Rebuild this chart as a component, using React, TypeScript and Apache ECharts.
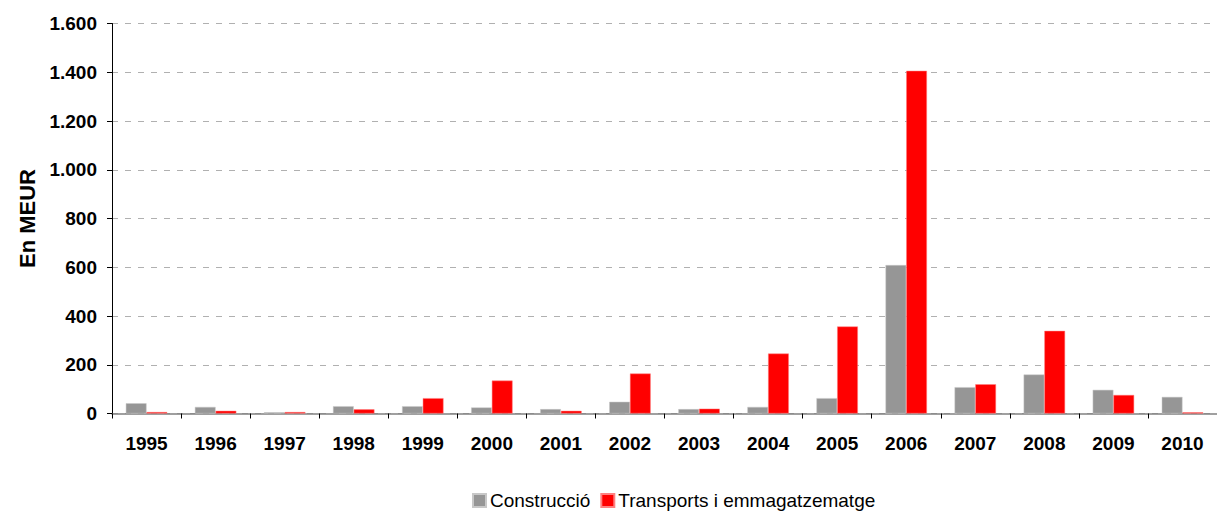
import React, { useEffect, useRef } from "react";
import * as echarts from "echarts";

const categories = ["1995","1996","1997","1998","1999","2000","2001","2002","2003","2004","2005","2006","2007","2008","2009","2010"];
const construccio = [42, 27, 5, 30, 30, 25, 18, 48, 18, 27, 63, 609, 108, 160, 97, 68];
const transports = [6, 11, 6, 17, 63, 135, 11, 164, 20, 246, 357, 1406, 120, 339, 76, 5];
const seriesNames = ["Construcció", "Transports i emmagatzematge"];

const fmt = (v: number) => String(v).replace(/\B(?=(\d{3})+(?!\d))/g, ".");

export default function App() {
  const ref = useRef<HTMLDivElement>(null);
  useEffect(() => {
    const chart = echarts.init(ref.current!, null, { renderer: "svg" });
    chart.setOption({
      animation: false,
      textStyle: { fontFamily: "Liberation Sans, Arial, sans-serif" },
      grid: { left: 102, top: 15.5, width: 1120, height: 390 },
      legend: {
        top: 483,
        left: 464,
        padding: 0,
        itemWidth: 13,
        itemHeight: 13,
        itemGap: 10,
        icon: "rect",
        textStyle: { fontSize: 19, color: "#000", padding: [0, 0, 0, -1] },
        data: seriesNames,
      },
      xAxis: {
        type: "category",
        data: categories,
        axisLine: { lineStyle: { color: "#808080", width: 1.5 } },
        axisTick: { show: true, length: 5, lineStyle: { color: "#000" } },
        axisLabel: { fontSize: 19, fontWeight: "bold", color: "#000", margin: 20 },
      },
      yAxis: {
        type: "value",
        min: 0,
        max: 1600,
        interval: 200,
        name: "En MEUR",
        nameLocation: "middle",
        nameGap: 74,
        nameTextStyle: { fontSize: 22, fontWeight: "bold", color: "#000" },
        axisLine: { show: true, lineStyle: { color: "#000" } },
        axisTick: { show: true, length: 5, lineStyle: { color: "#000" } },
        axisLabel: { fontSize: 19, fontWeight: "bold", color: "#000", margin: 15, formatter: fmt },
        splitLine: { lineStyle: { color: "#b0b0b0", type: [6, 7] } },
      },
      series: [
        {
          name: seriesNames[0],
          type: "bar",
          data: construccio,
          barGap: "0%",
          barCategoryGap: "40%",
          itemStyle: { color: "#969696", borderColor: "#c8c8c8", borderWidth: 0.5 },
        },
        {
          name: seriesNames[1],
          type: "bar",
          data: transports,
          barGap: "0%",
          barCategoryGap: "40%",
          itemStyle: { color: "#ff0000", borderColor: "#ff8080", borderWidth: 0.5 },
        },
      ],
    });
    return () => chart.dispose();
  }, []);
  return <div ref={ref} style={{ width: 1209, height: 507 }} />;
}
